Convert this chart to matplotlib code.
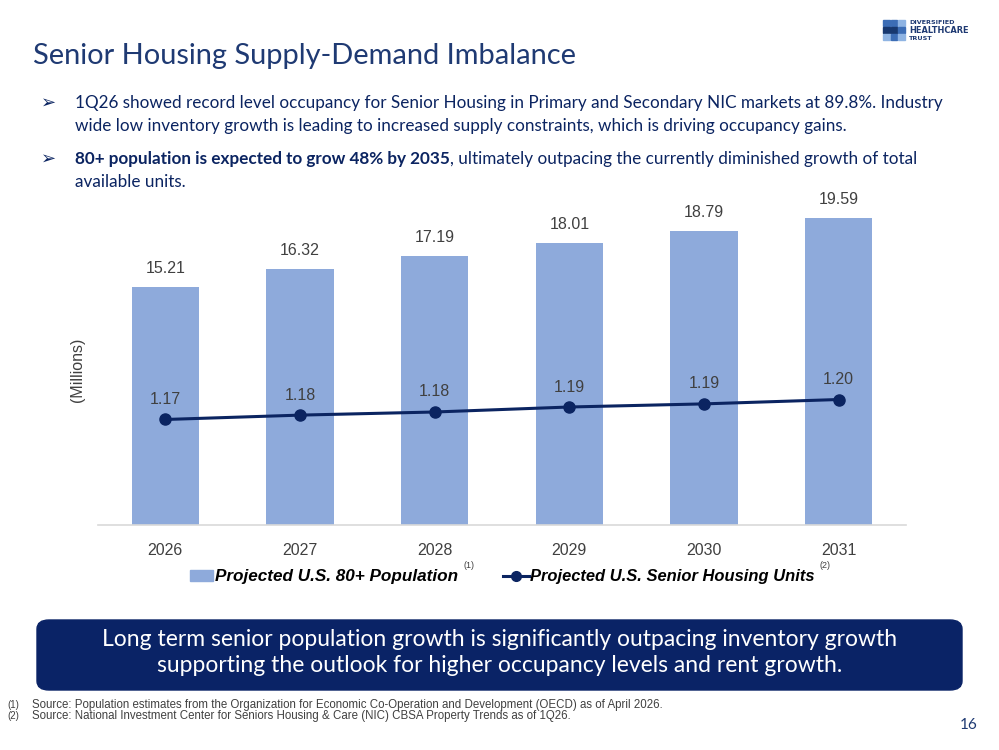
import matplotlib
matplotlib.use("Agg")
import matplotlib.pyplot as plt
from matplotlib.patches import FancyBboxPatch, Rectangle
from matplotlib.lines import Line2D
from matplotlib import font_manager as fm

years = ["2026", "2027", "2028", "2029", "2030", "2031"]
population = [15.21, 16.32, 17.19, 18.01, 18.79, 19.59]
housing_units = [1.169, 1.176, 1.181, 1.189, 1.194, 1.201]
bar_label = "Projected U.S. 80+ Population"
line_label = "Projected U.S. Senior Housing Units"

names = {f.name for f in fm.fontManager.ttflist}
NARROW = "Liberation Sans Narrow" if "Liberation Sans Narrow" in names else "Liberation Sans"
MAIN = "Lato" if "Lato" in names else "DejaVu Sans"

NAVY = "#0B2461"
TITLE = "#1F3A73"
BAR = "#8EAADB"
GRAY = "#404040"

W, H = 999, 750
fig = plt.figure(figsize=(W / 100, H / 100), dpi=100)
r = fig.canvas.get_renderer()

def fx(px):
    return px / W

def fy(py):
    return 1 - py / H

def fit(t, target_w):
    """scale text font so its width equals target_w px"""
    e = t.get_window_extent(r)
    t.set_fontsize(t.get_fontsize() * target_w / e.width)

# chart axes
ax = fig.add_axes([fx(98), fy(525), fx(808), (525 - 196) / H])
x = list(range(len(years)))
ax.bar(x, population, width=0.5, color=BAR, zorder=2)
ax.set_xlim(-0.5, 5.5)
ax.set_ylim(0, 21)
ax.set_xticks(x)
ax.set_xticklabels(years, fontsize=11.5, color=GRAY, family=NARROW)
ax.tick_params(axis="x", length=0, pad=13)
ax.set_yticks([])
for s in ["top", "right", "left"]:
    ax.spines[s].set_visible(False)
ax.spines["bottom"].set_color("#D9D9D9")
ax.spines["bottom"].set_linewidth(1.2)
for xi, v in zip(x, population):
    ax.annotate(f"{v:.2f}", (xi, v), xytext=(0, 8), textcoords="offset points",
                ha="center", va="bottom", fontsize=11.5, color=GRAY, family=NARROW)

ax2 = ax.twinx()
ax2.set_ylim(1.0, 1.0 + 21 / 39.85)
ax2.plot(x, housing_units, color=NAVY, lw=2.2, marker="o", ms=8, zorder=3)
ax2.set_yticks([])
for s in ["top", "right", "left", "bottom"]:
    ax2.spines[s].set_visible(False)
for xi, v in zip(x, housing_units):
    ax2.annotate(f"{v:.2f}", (xi, v), xytext=(0, 9), textcoords="offset points",
                 ha="center", va="bottom", fontsize=11.5, color=GRAY, family=NARROW)

fig.text(fx(78), fy(370), "(Millions)", rotation=90, ha="center", va="center",
         fontsize=11.5, color=GRAY, family="Liberation Sans")

# Title
tt = fig.text(fx(33), fy(56), "Senior Housing Supply-Demand Imbalance", fontsize=20,
              color=TITLE, family=MAIN, va="center", ha="left")
fit(tt, 545)

# bullets
bfs = 12.2
fig.text(fx(41), fy(103), "\u27A2", fontsize=13, color=NAVY, family="DejaVu Sans", va="center")
b1 = fig.text(fx(75), fy(103), "1Q26 showed record level occupancy for Senior Housing in Primary and Secondary NIC markets at 89.8%. Industry",
              fontsize=bfs, color=NAVY, family=MAIN, va="center")
fit(b1, 866)
bfs = b1.get_fontsize()
fig.text(fx(75), fy(126), "wide low inventory growth is leading to increased supply constraints, which is driving occupancy gains.",
         fontsize=bfs, color=NAVY, family=MAIN, va="center")
fig.text(fx(41), fy(159), "\u27A2", fontsize=13, color=NAVY, family="DejaVu Sans", va="center")
tb = fig.text(fx(75), fy(159), "80+ population is expected to grow 48% by 2035",
              fontsize=bfs, color=NAVY, family=MAIN, weight="bold", va="center")
bb = tb.get_window_extent(r)
fig.text(bb.x1 / W, fy(159), ", ultimately outpacing the currently diminished growth of total",
         fontsize=bfs, color=NAVY, family=MAIN, va="center")
fig.text(fx(75), fy(182), "available units.", fontsize=bfs, color=NAVY, family=MAIN, va="center")

# legend (manual)
fig.patches.append(Rectangle((fx(190), fy(581)), fx(23), 11 / H, transform=fig.transFigure,
                             color=BAR, figure=fig))
t1 = fig.text(fx(215), fy(576), bar_label, fontsize=11.5, weight="bold", style="italic",
              family=NARROW, color="black", va="center")
fit(t1, 243)
fig.add_artist(Line2D([fx(503), fx(529)], [fy(576), fy(576)], color=NAVY, lw=2.2,
                      transform=fig.transFigure))
fig.add_artist(Line2D([fx(516)], [fy(576)], color=NAVY, marker="o", ms=7,
                      transform=fig.transFigure))
t2 = fig.text(fx(530), fy(576), line_label, fontsize=t1.get_fontsize(), weight="bold", style="italic",
              family=NARROW, color="black", va="center")
fit(t2, 285)
for t, lab in [(t1, "(1)"), (t2, "(2)")]:
    e = t.get_window_extent(r)
    fig.text((e.x1 + 5) / W, fy(566), lab, fontsize=6.5, color=GRAY, family=NARROW, va="center")

# callout box
box = FancyBboxPatch((fx(37), fy(690)), fx(925), 70 / H,
                     boxstyle="round,pad=0,rounding_size=0.012", transform=fig.transFigure,
                     facecolor="#0A2366", edgecolor="#0A2366", figure=fig)
fig.patches.append(box)
c1 = fig.text(0.5, fy(640), "Long term senior population growth is significantly outpacing inventory growth",
              fontsize=16, color="white", family=MAIN, ha="center", va="center")
fit(c1, 796)
fig.text(0.5, fy(666), "supporting the outlook for higher occupancy levels and rent growth.",
         fontsize=c1.get_fontsize(), color="white", family=MAIN, ha="center", va="center")

# footnotes
fig.text(fx(7), fy(705), "(1)", fontsize=7, color=GRAY, family=NARROW, va="center")
f1 = fig.text(fx(32), fy(705), "Source: Population estimates from the Organization for Economic Co-Operation and Development (OECD) as of April 2026.",
              fontsize=7, color=GRAY, family=NARROW, va="center")
fit(f1, 630)
fig.text(fx(7), fy(716), "(2)", fontsize=7, color=GRAY, family=NARROW, va="center")
fig.text(fx(32), fy(716), "Source: National Investment Center for Seniors Housing & Care (NIC) CBSA Property Trends as of 1Q26.",
         fontsize=f1.get_fontsize(), color=GRAY, family=NARROW, va="center")
fig.text(fx(978), fy(725), "16", fontsize=11, color=TITLE, family=MAIN, ha="right", va="center")

# logo
cols = [["#3C6DB5", "#3C6DB5", "#8FB4E3"],
        ["#17386F", "#17386F", "#3C6DB5"],
        ["#8FB4E3", "#3C6DB5", "#8FB4E3"]]
for i in range(3):
    for j in range(3):
        fig.patches.append(Rectangle((fx(883 + j * 7.5), fy(20 + i * 7 + 6)), fx(6.5), 6 / H,
                                     transform=fig.transFigure, color=cols[i][j], figure=fig))
fig.text(fx(909), fy(22), "DIVERSIFIED", fontsize=4.6, weight="bold", color="#1F3A73",
         family="DejaVu Sans", va="center")
lg = fig.text(fx(909), fy(30.5), "HEALTHCARE", fontsize=6.5, weight="bold", color="#1F3A73",
              family="DejaVu Sans", va="center")
fit(lg, 60)
fig.text(fx(909), fy(38.5), "TRUST", fontsize=4.6, weight="bold", color="#1F3A73",
         family="DejaVu Sans", va="center")

fig.savefig("out.png", dpi=100)
